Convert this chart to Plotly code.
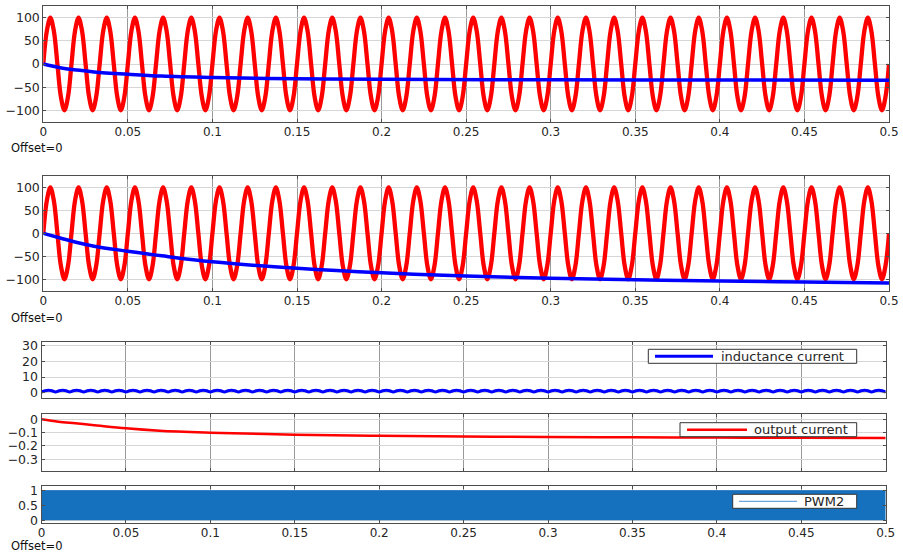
import numpy as np
import plotly.graph_objects as go

# ---------------- data ----------------
# time grid at eighth periods of the 60 Hz source (0 .. 0.5 s)
wave_t = np.arange(241) / 480.0
source_v = [
    0, 71, 100, 71, 0, -71, -100, -71, 0, 71, 100, 71, 0, -71, -100, -71,
    0, 71, 100, 71, 0, -71, -100, -71, 0, 71, 100, 71, 0, -71, -100, -71,
    0, 71, 100, 71, 0, -71, -100, -71, 0, 71, 100, 71, 0, -71, -100, -71,
    0, 71, 100, 71, 0, -71, -100, -71, 0, 71, 100, 71, 0, -71, -100, -71,
    0, 71, 100, 71, 0, -71, -100, -71, 0, 71, 100, 71, 0, -71, -100, -71,
    0, 71, 100, 71, 0, -71, -100, -71, 0, 71, 100, 71, 0, -71, -100, -71,
    0, 71, 100, 71, 0, -71, -100, -71, 0, 71, 100, 71, 0, -71, -100, -71,
    0, 71, 100, 71, 0, -71, -100, -71, 0, 71, 100, 71, 0, -71, -100, -71,
    0, 71, 100, 71, 0, -71, -100, -71, 0, 71, 100, 71, 0, -71, -100, -71,
    0, 71, 100, 71, 0, -71, -100, -71, 0, 71, 100, 71, 0, -71, -100, -71,
    0, 71, 100, 71, 0, -71, -100, -71, 0, 71, 100, 71, 0, -71, -100, -71,
    0, 71, 100, 71, 0, -71, -100, -71, 0, 71, 100, 71, 0, -71, -100, -71,
    0, 71, 100, 71, 0, -71, -100, -71, 0, 71, 100, 71, 0, -71, -100, -71,
    0, 71, 100, 71, 0, -71, -100, -71, 0, 71, 100, 71, 0, -71, -100, -71,
    0, 71, 100, 71, 0, -71, -100, -71, 0, 71, 100, 71, 0, -71, -100, -71,
    0,
]
inductance_i = [
    0.5, 1.25, 1.55, 1.25, 0.5, 1.25, 1.55, 1.25, 0.5, 1.25, 1.55, 1.25, 0.5, 1.25, 1.55, 1.25,
    0.5, 1.25, 1.55, 1.25, 0.5, 1.25, 1.55, 1.25, 0.5, 1.25, 1.55, 1.25, 0.5, 1.25, 1.55, 1.25,
    0.5, 1.25, 1.55, 1.25, 0.5, 1.25, 1.55, 1.25, 0.5, 1.25, 1.55, 1.25, 0.5, 1.25, 1.55, 1.25,
    0.5, 1.25, 1.55, 1.25, 0.5, 1.25, 1.55, 1.25, 0.5, 1.25, 1.55, 1.25, 0.5, 1.25, 1.55, 1.25,
    0.5, 1.25, 1.55, 1.25, 0.5, 1.25, 1.55, 1.25, 0.5, 1.25, 1.55, 1.25, 0.5, 1.25, 1.55, 1.25,
    0.5, 1.25, 1.55, 1.25, 0.5, 1.25, 1.55, 1.25, 0.5, 1.25, 1.55, 1.25, 0.5, 1.25, 1.55, 1.25,
    0.5, 1.25, 1.55, 1.25, 0.5, 1.25, 1.55, 1.25, 0.5, 1.25, 1.55, 1.25, 0.5, 1.25, 1.55, 1.25,
    0.5, 1.25, 1.55, 1.25, 0.5, 1.25, 1.55, 1.25, 0.5, 1.25, 1.55, 1.25, 0.5, 1.25, 1.55, 1.25,
    0.5, 1.25, 1.55, 1.25, 0.5, 1.25, 1.55, 1.25, 0.5, 1.25, 1.55, 1.25, 0.5, 1.25, 1.55, 1.25,
    0.5, 1.25, 1.55, 1.25, 0.5, 1.25, 1.55, 1.25, 0.5, 1.25, 1.55, 1.25, 0.5, 1.25, 1.55, 1.25,
    0.5, 1.25, 1.55, 1.25, 0.5, 1.25, 1.55, 1.25, 0.5, 1.25, 1.55, 1.25, 0.5, 1.25, 1.55, 1.25,
    0.5, 1.25, 1.55, 1.25, 0.5, 1.25, 1.55, 1.25, 0.5, 1.25, 1.55, 1.25, 0.5, 1.25, 1.55, 1.25,
    0.5, 1.25, 1.55, 1.25, 0.5, 1.25, 1.55, 1.25, 0.5, 1.25, 1.55, 1.25, 0.5, 1.25, 1.55, 1.25,
    0.5, 1.25, 1.55, 1.25, 0.5, 1.25, 1.55, 1.25, 0.5, 1.25, 1.55, 1.25, 0.5, 1.25, 1.55, 1.25,
    0.5, 1.25, 1.55, 1.25, 0.5, 1.25, 1.55, 1.25, 0.5, 1.25, 1.55, 1.25, 0.5, 1.25, 1.55, 1.25,
    0.5,
]

out1_t = [0, 0.01, 0.02, 0.03, 0.05, 0.07, 0.1, 0.15, 0.2, 0.3, 0.4, 0.5]
out1_v = [0, -8, -13, -17, -22, -26, -29, -32, -33, -34, -34.5, -35]

out2_t = [0, 0.01, 0.02, 0.03, 0.05, 0.07, 0.1, 0.15, 0.2, 0.25, 0.3, 0.35, 0.4, 0.45, 0.5]
out2_v = [0, -10, -20, -28, -39, -49, -62, -76, -86, -93, -98, -101, -104, -106, -108]

outcur_t = [0, 0.01, 0.02, 0.03, 0.05, 0.07, 0.1, 0.15, 0.2, 0.25, 0.3, 0.35, 0.4, 0.45, 0.5]
outcur_v = [0, -0.018, -0.03, -0.042, -0.068, -0.086, -0.1, -0.115, -0.123, -0.128,
            -0.133, -0.135, -0.137, -0.139, -0.14]

pwm_t = [0, 0.5]
pwm_v = [1, 1]

x_ticks = [0, 0.05, 0.1, 0.15, 0.2, 0.25, 0.3, 0.35, 0.4, 0.45, 0.5]
x_labels = ["0", "0.05", "0.1", "0.15", "0.2", "0.25", "0.3", "0.35", "0.4", "0.45", "0.5"]
y1_ticks = [-100, -50, 0, 50, 100]
y3_ticks = [0, 10, 20, 30]
y4_ticks = [-0.3, -0.2, -0.1, 0]
y5_ticks = [0, 0.5, 1]

legend_names = ["inductance current", "output current", "PWM2"]

# ---------------- layout helpers ----------------
W, H = 903, 553
FONT = "DejaVu Sans"
TICK_COLOR = "#262626"
RED = "#ff0000"
BLUE = "#0000ff"
PWM_FILL = "#1570be"
PWM_LINE = "#4a90d4"


def px_x(v):
    return v / W


def px_y(v):
    return 1 - v / H


def xaxis(domain, anchor, labels):
    return dict(
        domain=domain, anchor=anchor, range=[0, 0.5], automargin=False,
        tickmode="array", tickvals=x_ticks, ticktext=x_labels,
        showticklabels=labels, ticks="inside", ticklen=3, tickcolor="#4d4d4d",
        ticklabelstandoff=-1,
        showgrid=True, gridcolor="#9a9a9a", gridwidth=1,
        showline=True, linecolor="#4d4d4d", linewidth=1, mirror="ticks",
        zeroline=False, tickfont=dict(family=FONT, size=12, color=TICK_COLOR),
    )


def yaxis(domain, anchor, rng, ticks):
    return dict(
        domain=domain, anchor=anchor, range=rng, automargin=False,
        tickmode="array", tickvals=ticks,
        ticks="inside", ticklen=3, tickcolor="#4d4d4d",
        showgrid=True, gridcolor="#d6d6d6", gridwidth=1,
        showline=True, linecolor="#4d4d4d", linewidth=1, mirror="ticks",
        zeroline=False, tickfont=dict(family=FONT, size=12.5, color=TICK_COLOR),
    )


top_x = [px_x(43.3), px_x(889)]
bot_x = [px_x(41.5), px_x(885.7)]

fig = go.Figure()

# panel 1
fig.add_trace(go.Scatter(x=wave_t, y=source_v, mode="lines", line=dict(color=RED, width=4.3, shape="spline"),
                         xaxis="x", yaxis="y", showlegend=False))
fig.add_trace(go.Scatter(x=out1_t, y=out1_v, mode="lines", line=dict(color=BLUE, width=3.5, shape="spline"),
                         xaxis="x", yaxis="y", showlegend=False))
# panel 2
fig.add_trace(go.Scatter(x=wave_t, y=source_v, mode="lines", line=dict(color=RED, width=4.3, shape="spline"),
                         xaxis="x2", yaxis="y2", showlegend=False))
fig.add_trace(go.Scatter(x=out2_t, y=out2_v, mode="lines", line=dict(color=BLUE, width=3.5, shape="spline"),
                         xaxis="x2", yaxis="y2", showlegend=False))
# panel 3
fig.add_trace(go.Scatter(x=wave_t, y=inductance_i, mode="lines", name=legend_names[0],
                         line=dict(color=BLUE, width=3, shape="spline"),
                         xaxis="x3", yaxis="y3", showlegend=False))
# panel 4
fig.add_trace(go.Scatter(x=outcur_t, y=outcur_v, mode="lines", name=legend_names[1],
                         line=dict(color=RED, width=2.5, shape="spline"),
                         xaxis="x4", yaxis="y4", showlegend=False))
# panel 5
fig.add_trace(go.Scatter(x=pwm_t, y=pwm_v, mode="lines", fill="tozeroy", fillcolor=PWM_FILL, name=legend_names[2],
                         line=dict(color=PWM_FILL, width=1),
                         xaxis="x5", yaxis="y5", showlegend=False))

# legend boxes drawn in the MATLAB scope style (box, sample line, label)
legend_specs = [
    # box left, top, line start, line end, text x, colour, width
    (648.3, 349.3, 655, 713, 719, BLUE, 3, legend_names[0]),
    (680.0, 422.7, 687, 747, 752, RED, 2.5, legend_names[1]),
    (732.7, 494.3, 739, 797, 802, PWM_LINE, 1, legend_names[2]),
]
shapes = []
annotations = []
for left, top, l0, l1, tx, col, lw, name in legend_specs:
    right = 856.7
    bottom = top + 14
    mid = (top + bottom) / 2
    shapes.append(dict(type="rect", xref="paper", yref="paper",
                       x0=px_x(left), x1=px_x(right), y0=px_y(bottom), y1=px_y(top),
                       line=dict(color="#333333", width=1), fillcolor="white", layer="above"))
    shapes.append(dict(type="line", xref="paper", yref="paper",
                       x0=px_x(l0), x1=px_x(l1), y0=px_y(mid), y1=px_y(mid),
                       line=dict(color=col, width=lw), layer="above"))
    annotations.append(dict(text=name, x=px_x(tx), y=px_y(mid), xref="paper", yref="paper",
                            xanchor="left", yanchor="middle", showarrow=False,
                            font=dict(family=FONT, size=13, color="#262626")))

for oy in (148, 318.3, 546):
    annotations.append(dict(text="Offset=0", x=px_x(9), y=px_y(oy), xref="paper", yref="paper",
                            xanchor="left", yanchor="middle", showarrow=False,
                            font=dict(family=FONT, size=11.5, color="#111111")))

fig.update_layout(
    width=W, height=H, margin=dict(l=0, r=0, t=0, b=0),
    paper_bgcolor="white", plot_bgcolor="white", showlegend=False,
    xaxis=xaxis(top_x, "y", True),
    yaxis=yaxis([px_y(122), px_y(6)], "x", [-125, 125], y1_ticks),
    xaxis2=xaxis(top_x, "y2", True),
    yaxis2=yaxis([px_y(290.7), px_y(176)], "x2", [-125, 125], y1_ticks),
    xaxis3=xaxis(bot_x, "y3", False),
    yaxis3=yaxis([px_y(398.3), px_y(341.7)], "x3", [-3.5, 32.5], y3_ticks),
    xaxis4=xaxis(bot_x, "y4", False),
    yaxis4=yaxis([px_y(471), px_y(414.3)], "x4", [-0.3875, 0.0375], y4_ticks),
    xaxis5=xaxis(bot_x, "y5", True),
    yaxis5=yaxis([px_y(522.7), px_y(486)], "x5", [-0.08, 1.16], y5_ticks),
    shapes=shapes,
    annotations=annotations,
)

fig.write_html("out.html")
